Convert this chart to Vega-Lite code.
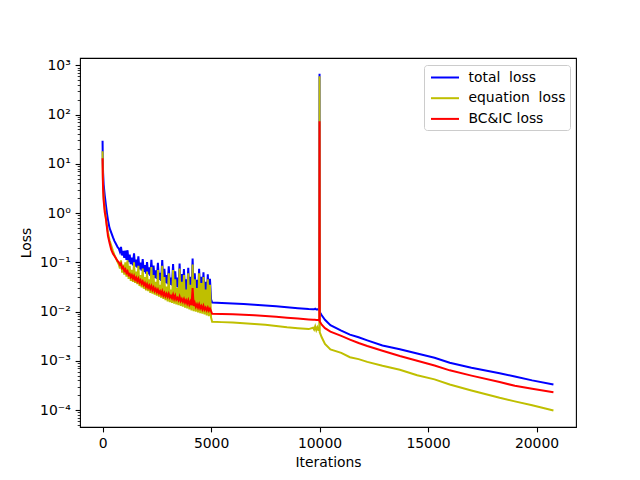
{
  "$schema": "https://vega.github.io/schema/vega-lite/v6.json",
  "autosize": {"type": "none"},
  "padding": {"left": 80, "top": 58, "right": 64, "bottom": 53},
  "width": 496,
  "height": 369,
  "background": "white",
  "config": {
    "font": "DejaVu Sans",
    "view": {"stroke": "black", "strokeWidth": 1.1},
    "axis": {
      "grid": false,
      "domain": false,
      "labelFont": "DejaVu Sans",
      "labelFontSize": 13.9,
      "labelColor": "black",
      "titleFont": "DejaVu Sans",
      "titleFontSize": 13.9,
      "titleFontWeight": "normal",
      "titleColor": "black",
      "tickColor": "black",
      "tickWidth": 1.1,
      "tickSize": 4.9,
      "labelPadding": 4.9
    }
  },
  "data": {
    "values": [
      {"it": 0, "total": 29.5, "eq": 18, "bc": 13},
      {"it": 10, "total": 12, "eq": 7, "bc": 5.5},
      {"it": 25, "total": 6.5, "eq": 3.6, "bc": 3.0},
      {"it": 50, "total": 3.8, "eq": 2.1, "bc": 1.8},
      {"it": 100, "total": 2.3, "eq": 1.25, "bc": 1.05},
      {"it": 150, "total": 1.5, "eq": 0.8, "bc": 0.8},
      {"it": 200, "total": 1.0, "eq": 0.55, "bc": 0.52},
      {"it": 250, "total": 0.72, "eq": 0.4, "bc": 0.34},
      {"it": 320, "total": 0.5, "eq": 0.28, "bc": 0.25},
      {"it": 400, "total": 0.4, "eq": 0.22, "bc": 0.18},
      {"it": 480, "total": 0.32, "eq": 0.17, "bc": 0.15},
      {"it": 550, "total": 0.27, "eq": 0.14, "bc": 0.134},
      {"it": 620, "total": 0.235, "eq": 0.12, "bc": 0.12},
      {"it": 700, "total": 0.2, "eq": 0.1, "bc": 0.105},
      {"it": 750, "total": 0.19, "eq": 0.09, "bc": 0.1},
      {"it": 800, "total": 0.164, "eq": 0.075, "bc": 0.089},
      {"it": 850, "total": 0.205, "eq": 0.11, "bc": 0.095},
      {"it": 900, "total": 0.138, "eq": 0.062, "bc": 0.076},
      {"it": 950, "total": 0.17, "eq": 0.09, "bc": 0.08},
      {"it": 1000, "total": 0.123, "eq": 0.056, "bc": 0.067},
      {"it": 1050, "total": 0.172, "eq": 0.1, "bc": 0.072},
      {"it": 1100, "total": 0.112, "eq": 0.051, "bc": 0.061},
      {"it": 1150, "total": 0.176, "eq": 0.11, "bc": 0.066},
      {"it": 1200, "total": 0.101, "eq": 0.046, "bc": 0.055},
      {"it": 1250, "total": 0.143, "eq": 0.085, "bc": 0.058},
      {"it": 1300, "total": 0.092, "eq": 0.042, "bc": 0.05},
      {"it": 1350, "total": 0.125, "eq": 0.07, "bc": 0.055},
      {"it": 1400, "total": 0.087, "eq": 0.04, "bc": 0.047},
      {"it": 1450, "total": 0.153, "eq": 0.1, "bc": 0.053},
      {"it": 1500, "total": 0.082, "eq": 0.038, "bc": 0.0443},
      {"it": 1550, "total": 0.114, "eq": 0.065, "bc": 0.049},
      {"it": 1600, "total": 0.078, "eq": 0.036, "bc": 0.0417},
      {"it": 1650, "total": 0.132, "eq": 0.085, "bc": 0.047},
      {"it": 1700, "total": 0.072, "eq": 0.033, "bc": 0.0392},
      {"it": 1750, "total": 0.098, "eq": 0.055, "bc": 0.043},
      {"it": 1800, "total": 0.068, "eq": 0.031, "bc": 0.0369},
      {"it": 1850, "total": 0.116, "eq": 0.075, "bc": 0.041},
      {"it": 1900, "total": 0.064, "eq": 0.029, "bc": 0.0347},
      {"it": 1950, "total": 0.088, "eq": 0.05, "bc": 0.038},
      {"it": 2000, "total": 0.059, "eq": 0.027, "bc": 0.0318},
      {"it": 2050, "total": 0.101, "eq": 0.065, "bc": 0.036},
      {"it": 2100, "total": 0.057, "eq": 0.026, "bc": 0.0305},
      {"it": 2150, "total": 0.079, "eq": 0.045, "bc": 0.034},
      {"it": 2200, "total": 0.053, "eq": 0.024, "bc": 0.029},
      {"it": 2250, "total": 0.113, "eq": 0.08, "bc": 0.033},
      {"it": 2300, "total": 0.051, "eq": 0.023, "bc": 0.0276},
      {"it": 2350, "total": 0.086, "eq": 0.055, "bc": 0.031},
      {"it": 2400, "total": 0.048, "eq": 0.022, "bc": 0.0262},
      {"it": 2450, "total": 0.069, "eq": 0.04, "bc": 0.029},
      {"it": 2500, "total": 0.046, "eq": 0.021, "bc": 0.0249},
      {"it": 2550, "total": 0.098, "eq": 0.07, "bc": 0.028},
      {"it": 2600, "total": 0.044, "eq": 0.02, "bc": 0.0237},
      {"it": 2650, "total": 0.061, "eq": 0.035, "bc": 0.026},
      {"it": 2700, "total": 0.042, "eq": 0.019, "bc": 0.0225},
      {"it": 2750, "total": 0.111, "eq": 0.085, "bc": 0.026},
      {"it": 2800, "total": 0.039, "eq": 0.018, "bc": 0.0213},
      {"it": 2850, "total": 0.074, "eq": 0.05, "bc": 0.024},
      {"it": 2900, "total": 0.038, "eq": 0.017, "bc": 0.0205},
      {"it": 2950, "total": 0.055, "eq": 0.032, "bc": 0.023},
      {"it": 3000, "total": 0.036, "eq": 0.016, "bc": 0.0199},
      {"it": 3050, "total": 0.083, "eq": 0.06, "bc": 0.023},
      {"it": 3100, "total": 0.035, "eq": 0.0155, "bc": 0.0193},
      {"it": 3150, "total": 0.049, "eq": 0.028, "bc": 0.021},
      {"it": 3200, "total": 0.034, "eq": 0.015, "bc": 0.0187},
      {"it": 3250, "total": 0.092, "eq": 0.07, "bc": 0.022},
      {"it": 3300, "total": 0.033, "eq": 0.0145, "bc": 0.0181},
      {"it": 3350, "total": 0.066, "eq": 0.045, "bc": 0.021},
      {"it": 3400, "total": 0.0315, "eq": 0.014, "bc": 0.0175},
      {"it": 3450, "total": 0.049, "eq": 0.03, "bc": 0.019},
      {"it": 3500, "total": 0.0305, "eq": 0.0135, "bc": 0.017},
      {"it": 3550, "total": 0.095, "eq": 0.075, "bc": 0.02},
      {"it": 3600, "total": 0.0294, "eq": 0.013, "bc": 0.0164},
      {"it": 3650, "total": 0.058, "eq": 0.04, "bc": 0.018},
      {"it": 3700, "total": 0.0283, "eq": 0.0125, "bc": 0.0158},
      {"it": 3750, "total": 0.073, "eq": 0.055, "bc": 0.018},
      {"it": 3800, "total": 0.0272, "eq": 0.012, "bc": 0.0152},
      {"it": 3850, "total": 0.045, "eq": 0.028, "bc": 0.017},
      {"it": 3900, "total": 0.026, "eq": 0.0115, "bc": 0.0146},
      {"it": 3950, "total": 0.077, "eq": 0.06, "bc": 0.017},
      {"it": 4000, "total": 0.025, "eq": 0.011, "bc": 0.014},
      {"it": 4050, "total": 0.051, "eq": 0.035, "bc": 0.016},
      {"it": 4100, "total": 0.024, "eq": 0.0105, "bc": 0.0135},
      {"it": 4150, "total": 0.12, "eq": 0.09, "bc": 0.03},
      {"it": 4200, "total": 0.0232, "eq": 0.0102, "bc": 0.013},
      {"it": 4250, "total": 0.06, "eq": 0.045, "bc": 0.015},
      {"it": 4300, "total": 0.0224, "eq": 0.0099, "bc": 0.0125},
      {"it": 4350, "total": 0.044, "eq": 0.03, "bc": 0.014},
      {"it": 4400, "total": 0.0216, "eq": 0.0096, "bc": 0.012},
      {"it": 4450, "total": 0.074, "eq": 0.06, "bc": 0.014},
      {"it": 4500, "total": 0.0208, "eq": 0.0092, "bc": 0.0116},
      {"it": 4550, "total": 0.051, "eq": 0.038, "bc": 0.013},
      {"it": 4600, "total": 0.0202, "eq": 0.009, "bc": 0.0112},
      {"it": 4650, "total": 0.063, "eq": 0.05, "bc": 0.013},
      {"it": 4700, "total": 0.0196, "eq": 0.0087, "bc": 0.0109},
      {"it": 4750, "total": 0.04, "eq": 0.028, "bc": 0.012},
      {"it": 4800, "total": 0.0189, "eq": 0.0083, "bc": 0.0106},
      {"it": 4850, "total": 0.057, "eq": 0.045, "bc": 0.012},
      {"it": 4900, "total": 0.0184, "eq": 0.008, "bc": 0.0104},
      {"it": 4950, "total": 0.0465, "eq": 0.035, "bc": 0.0115},
      {"it": 5000, "total": 0.0178, "eq": 0.0076, "bc": 0.0102},
      {"it": 5050, "total": 0.0152, "eq": 0.0062, "bc": 0.009},
      {"it": 5500, "total": 0.0149, "eq": 0.0061, "bc": 0.0089},
      {"it": 6000, "total": 0.0146, "eq": 0.006, "bc": 0.0088},
      {"it": 6500, "total": 0.0142, "eq": 0.0058, "bc": 0.0086},
      {"it": 7000, "total": 0.0138, "eq": 0.0056, "bc": 0.0084},
      {"it": 7500, "total": 0.0133, "eq": 0.0054, "bc": 0.0081},
      {"it": 8000, "total": 0.0128, "eq": 0.0051, "bc": 0.0078},
      {"it": 8500, "total": 0.0122, "eq": 0.0048, "bc": 0.0075},
      {"it": 9000, "total": 0.0117, "eq": 0.0046, "bc": 0.0072},
      {"it": 9500, "total": 0.0113, "eq": 0.0044, "bc": 0.0069},
      {"it": 9700, "total": 0.0112, "eq": 0.0047, "bc": 0.0068},
      {"it": 9750, "total": 0.0111, "eq": 0.0043, "bc": 0.0068},
      {"it": 9800, "total": 0.0114, "eq": 0.005, "bc": 0.0068},
      {"it": 9850, "total": 0.011, "eq": 0.0042, "bc": 0.0067},
      {"it": 9900, "total": 0.0111, "eq": 0.0048, "bc": 0.0067},
      {"it": 9950, "total": 0.011, "eq": 0.0042, "bc": 0.0067},
      {"it": 9990, "total": 0.0108, "eq": 0.0041, "bc": 0.0066},
      {"it": 10000, "total": 680, "eq": 600, "bc": 73},
      {"it": 10010, "total": 0.0098, "eq": 0.0038, "bc": 0.0063},
      {"it": 10100, "total": 0.0084, "eq": 0.003, "bc": 0.0054},
      {"it": 10250, "total": 0.0068, "eq": 0.0022, "bc": 0.0046},
      {"it": 10500, "total": 0.0053, "eq": 0.0017, "bc": 0.0039},
      {"it": 11000, "total": 0.0041, "eq": 0.00145, "bc": 0.0032},
      {"it": 11400, "total": 0.0034, "eq": 0.00118, "bc": 0.0027},
      {"it": 11800, "total": 0.003, "eq": 0.00108, "bc": 0.0023},
      {"it": 12200, "total": 0.0026, "eq": 0.00095, "bc": 0.002},
      {"it": 12900, "total": 0.00205, "eq": 0.00079, "bc": 0.0016},
      {"it": 13700, "total": 0.00172, "eq": 0.00066, "bc": 0.00125},
      {"it": 14500, "total": 0.0014, "eq": 0.00051, "bc": 0.001},
      {"it": 15300, "total": 0.00115, "eq": 0.00042, "bc": 0.0008},
      {"it": 16000, "total": 0.00091, "eq": 0.00033, "bc": 0.00064},
      {"it": 17000, "total": 0.00072, "eq": 0.00025, "bc": 0.0005},
      {"it": 18300, "total": 0.00056, "eq": 0.000177, "bc": 0.00037},
      {"it": 19000, "total": 0.00048, "eq": 0.00015, "bc": 0.00031},
      {"it": 19800, "total": 0.0004, "eq": 0.000125, "bc": 0.00027},
      {"it": 20780, "total": 0.00033, "eq": 0.000098, "bc": 0.00023}
    ]
  },
  "encoding": {
    "x": {
      "field": "it",
      "type": "quantitative",
      "title": "Iterations",
      "scale": {"domain": [-1040, 21820], "nice": false, "zero": false},
      "axis": {"values": [0, 5000, 10000, 15000, 20000], "format": "d", "titlePadding": 5}
    }
  },
  "layer": [
    {
      "mark": {"type": "line", "strokeWidth": 2, "clip": true},
      "encoding": {
        "y": {
          "field": "total",
          "type": "quantitative",
          "title": "Loss",
          "scale": {"type": "log", "domain": [0.0000452, 1413], "nice": false},
          "axis": {
            "values": [0.00005, 0.00006, 0.00007, 0.00008, 0.00009, 0.0001, 0.0002, 0.0003, 0.0004, 0.0005, 0.0006, 0.0007, 0.0008, 0.0009, 0.001, 0.002, 0.003, 0.004, 0.005, 0.006, 0.007, 0.008, 0.009, 0.01, 0.02, 0.03, 0.04, 0.05, 0.06, 0.07, 0.08, 0.09, 0.1, 0.2, 0.3, 0.4, 0.5, 0.6, 0.7, 0.8, 0.9, 1, 2, 3, 4, 5, 6, 7, 8, 9, 10, 20, 30, 40, 50, 60, 70, 80, 90, 100, 200, 300, 400, 500, 600, 700, 800, 900, 1000],
            "labelExpr": "(abs(log(datum.value)/LN10 - round(log(datum.value)/LN10)) > 0.01 || datum.value < 0.00009) ? '' : '10' + ['⁻⁴','⁻³','⁻²','⁻¹','⁰','¹','²','³'][round(log(datum.value)/LN10) + 4]",
            "tickSize": {"condition": {"test": "abs(log(datum.value)/LN10 - round(log(datum.value)/LN10)) < 0.01", "value": 4.9}, "value": 2.8},
            "tickWidth": {"condition": {"test": "abs(log(datum.value)/LN10 - round(log(datum.value)/LN10)) < 0.01", "value": 1.1}, "value": 0.8},
            "titlePadding": 6
          }
        },
        "color": {
          "datum": "total\u00a0 loss",
          "scale": {"domain": ["total\u00a0 loss", "equation\u00a0 loss", "BC&IC loss"], "range": ["#0000ff", "#bfbf00", "#ff0000"]},
          "legend": {
            "title": null,
            "orient": "none",
            "legendX": 344,
            "legendY": 7,
            "padding": 4,
            "strokeColor": "#cccccc",
            "cornerRadius": 3,
            "fillColor": "rgba(255,255,255,0.8)",
            "symbolType": "M-1.87,0H1.87",
            "symbolSize": 225,
            "symbolStrokeWidth": 2,
            "symbolOffset": 8.5,
            "labelFont": "DejaVu Sans",
            "labelFontSize": 13.9,
            "labelColor": "black",
            "labelOffset": 15,
            "rowPadding": 4.7
          }
        }
      }
    },
    {
      "mark": {"type": "line", "strokeWidth": 2, "clip": true},
      "encoding": {
        "y": {"field": "eq", "type": "quantitative"},
        "color": {"datum": "equation\u00a0 loss"}
      }
    },
    {
      "mark": {"type": "line", "strokeWidth": 2, "clip": true},
      "encoding": {
        "y": {"field": "bc", "type": "quantitative"},
        "color": {"datum": "BC&IC loss"}
      }
    }
  ]
}
